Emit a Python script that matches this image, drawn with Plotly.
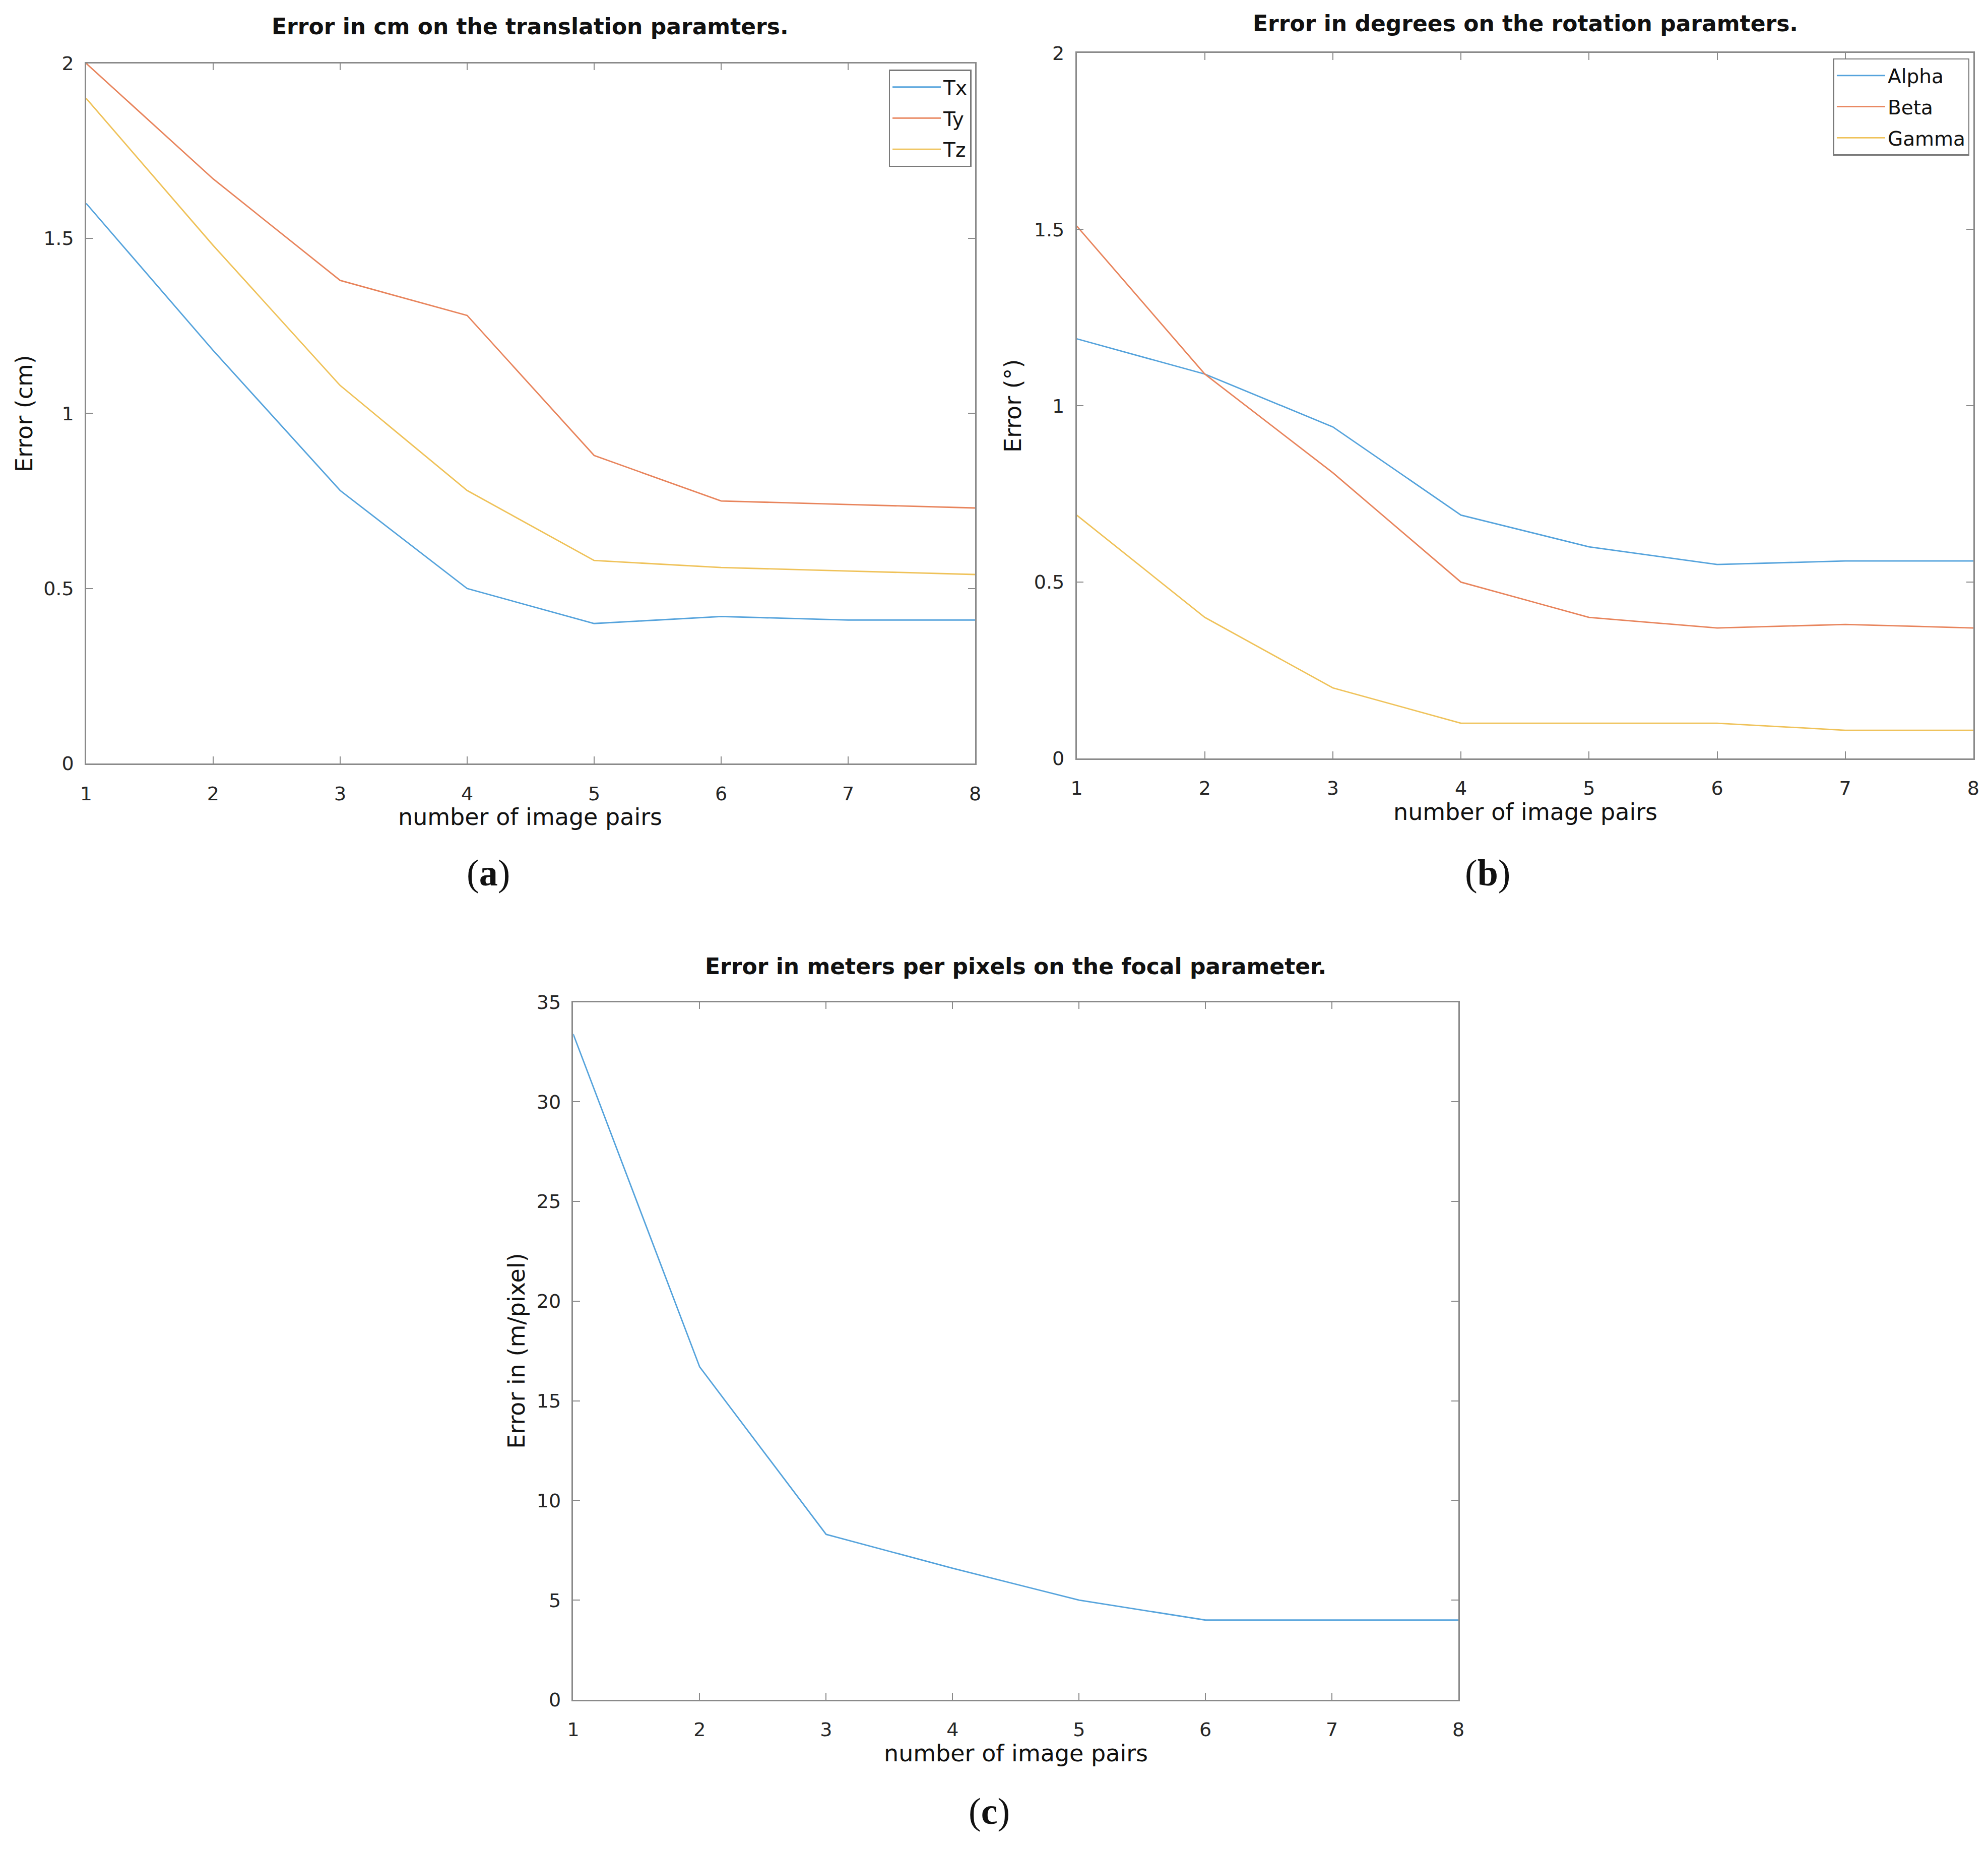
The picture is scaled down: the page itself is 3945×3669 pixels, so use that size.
import plotly.graph_objects as go

# ---- data ----
pairs = [1, 2, 3, 4, 5, 6, 7, 8]
tx = [1.60, 1.18, 0.78, 0.50, 0.40, 0.42, 0.41, 0.41]
ty = [2.00, 1.67, 1.38, 1.28, 0.88, 0.75, 0.74, 0.73]
tz = [1.90, 1.48, 1.08, 0.78, 0.58, 0.56, 0.55, 0.54]
alpha = [1.19, 1.09, 0.94, 0.69, 0.60, 0.55, 0.56, 0.56]
beta = [1.51, 1.09, 0.81, 0.50, 0.40, 0.37, 0.38, 0.37]
gamma = [0.69, 0.40, 0.20, 0.10, 0.10, 0.10, 0.08, 0.08]
focal = [33.4, 16.7, 8.3, 6.6, 5.0, 4.0, 4.0, 4.0]

rot_ticks = [0, 0.5, 1, 1.5, 2]
rot_ticktext = ["0", "0.5", "1", "1.5", "2"]
focal_ticks = [0, 5, 10, 15, 20, 25, 30, 35]

C1, C2, C3 = "#55a3dc", "#e8845c", "#efc259"
W, H = 3945, 3669
FONT = "DejaVu Sans"
AX = "#8a8a8a"
TICKF = 38
LABF = 44

fig = go.Figure()


def line(x, y, name, color, xa, ya, leg, group):
    fig.add_trace(go.Scatter(x=x, y=y, name=name, mode="lines", line=dict(color=color, width=2.8),
                             xaxis=xa, yaxis=ya, legend=leg, legendgroup=group))


line(pairs, tx, "Tx", C1, "x", "y", "legend", "a1")
line(pairs, ty, "Ty", C2, "x", "y", "legend", "a2")
line(pairs, tz, "Tz", C3, "x", "y", "legend", "a3")
line(pairs, alpha, "Alpha", C1, "x2", "y2", "legend2", "b1")
line(pairs, beta, "Beta", C2, "x2", "y2", "legend2", "b2")
line(pairs, gamma, "Gamma", C3, "x2", "y2", "legend2", "b3")
fig.add_trace(go.Scatter(x=pairs, y=focal, name="Focal", mode="lines", line=dict(color=C1, width=2.8),
                         xaxis="x3", yaxis="y3", showlegend=False))


def xax(domain, anchor):
    return dict(domain=domain, anchor=anchor, range=[1, 8], tickvals=pairs, ticks="inside", ticklen=14,
                tickcolor=AX, tickwidth=2, showline=True, linecolor=AX, linewidth=2.5, mirror="allticks",
                showgrid=False, zeroline=False, tickfont=dict(family=FONT, size=TICKF, color="#262626"),
                ticklabelstandoff=24)


def yax(domain, anchor, rng, vals, text=None):
    d = dict(domain=domain, anchor=anchor, range=rng, tickvals=vals, ticks="inside", ticklen=14,
             tickcolor=AX, tickwidth=2, showline=True, linecolor=AX, linewidth=2.5, mirror="allticks",
             showgrid=False, zeroline=False, tickfont=dict(family=FONT, size=TICKF, color="#262626"),
             ticklabelstandoff=14)
    if text:
        d["ticktext"] = text
    return d


ann = []


def text(x, y, s, size, bold=False, angle=0, family=FONT):
    ann.append(dict(x=x, y=y, xref="paper", yref="paper", text=("<b>%s</b>" % s) if bold else s,
                    showarrow=False, xanchor="center", yanchor="middle", textangle=angle,
                    font=dict(family=family, size=size, color="#111111")))


# titles
text(0.2632, 0.9937, "Error in cm on the translation paramters.", LABF, bold=True)
text(0.7670, 0.9955, "Error in degrees on the rotation paramters.", LABF, bold=True)
text(0.5090, 0.4792, "Error in meters per pixels on the focal parameter.", LABF, bold=True)
# x labels
text(0.2632, 0.5611, "number of image pairs", 46)
text(0.7670, 0.5639, "number of image pairs", 46)
text(0.5090, 0.0486, "number of image pairs", 46)
# y labels
text(0.0070, 0.7819, "Error (cm)", 46, angle=-90)
text(0.5077, 0.7861, "Error (°)", 46, angle=-90)
text(0.2561, 0.2688, "Error in (m/pixel)", 46, angle=-90)
# panel labels
SERIF = "Liberation Serif"
text(0.2420, 0.5306, "(<b>a</b>)", 74, family=SERIF)
text(0.7478, 0.5306, "(<b>b</b>)", 74, family=SERIF)
text(0.4955, 0.0167, "(<b>c</b>)", 74, family=SERIF)

leg = dict(xanchor="right", yanchor="top", bgcolor="white", bordercolor="#7a7a7a", borderwidth=2.5,
           font=dict(family=FONT, size=39, color="#111111"), itemwidth=96, tracegroupgap=8)

fig.update_layout(
    width=W, height=H, margin=dict(l=0, r=0, t=0, b=0),
    paper_bgcolor="white", plot_bgcolor="white",
    xaxis=xax([0.0385, 0.4884], "y"),
    yaxis=yax([0.5903, 0.9736], "x", [0, 2], rot_ticks, rot_ticktext),
    xaxis2=xax([0.5398, 0.9936], "y2"),
    yaxis2=yax([0.5931, 0.9792], "x2", [0, 2], rot_ticks, rot_ticktext),
    xaxis3=xax([0.2850, 0.7330], "y3"),
    yaxis3=yax([0.0778, 0.4597], "x3", [0, 35], focal_ticks),
    legend=dict(x=0.4865, y=0.9701, **leg),
    legend2=dict(x=0.9917, y=0.9764, **leg),
    annotations=ann,
    showlegend=True,
)

fig.write_html("out.html")
